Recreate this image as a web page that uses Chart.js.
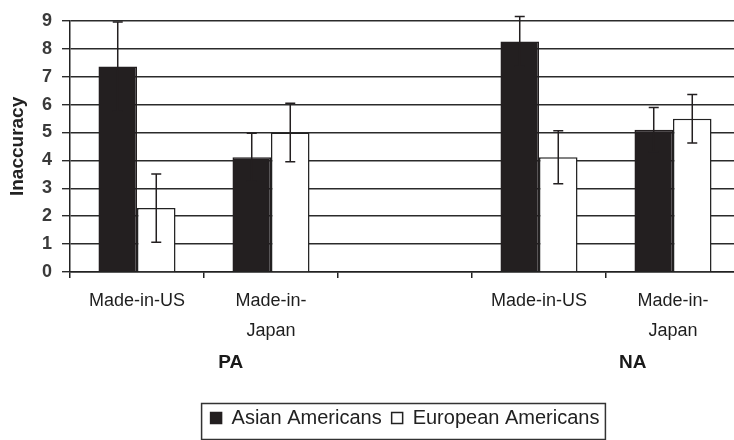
<!DOCTYPE html>
<html>
<head>
<meta charset="utf-8">
<script src="https://cdn.jsdelivr.net/npm/chart.js@4.4.1/dist/chart.umd.min.js"></script>
<style>
  html, body { margin: 0; padding: 0; background: #fff; overflow: hidden; }
  #wrap { width: 734px; height: 440px; overflow: hidden; }
</style>
</head>
<body>
<div id="wrap"><canvas id="chart" width="740" height="440"></canvas></div>
<script>
// categories (third slot is the empty gap between the two groups)
const categories = ['Made-in-US', ['Made-in-', 'Japan'], '', 'Made-in-US', ['Made-in-', 'Japan']];
const groups = [
  { label: 'PA', from: 0, to: 1 },
  { label: 'NA', from: 3, to: 4 }
];

const asianAmericans   = [7.36, 4.11, null, 8.26, 5.10];
const asianErr         = [1.60, 0.86, null, 0.89, 0.79];
const europeanAmericans = [2.29, 5.00, null, 4.11, 5.49];
const europeanErr      = [1.22, 1.05, null, 0.95, 0.87];

const yTicks = [0, 1, 2, 3, 4, 5, 6, 7, 8, 9];

const INK = '#231f20';
const FONT = '"Liberation Sans", Arial, sans-serif';

// error bars drawn from each bar's x and the y scale
const errorBars = {
  id: 'errorBars',
  afterDatasetsDraw(chart) {
    const ctx = chart.ctx;
    const y = chart.scales.y;
    ctx.save();
    ctx.strokeStyle = INK;
    ctx.lineWidth = 1.5;
    chart.data.datasets.forEach((ds, i) => {
      const meta = chart.getDatasetMeta(i);
      meta.data.forEach((bar, j) => {
        const v = ds.data[j], e = ds.errors[j];
        if (v == null || e == null) return;
        const yHi = y.getPixelForValue(v + e);
        const yLo = y.getPixelForValue(v - e);
        const cap = 5;
        ctx.beginPath();
        ctx.moveTo(bar.x, yHi); ctx.lineTo(bar.x, yLo);
        ctx.moveTo(bar.x - cap, yHi); ctx.lineTo(bar.x + cap, yHi);
        ctx.moveTo(bar.x - cap, yLo); ctx.lineTo(bar.x + cap, yLo);
        ctx.stroke();
      });
    });
    ctx.restore();
  }
};

// group labels under the category labels, and a frame round the legend
const extras = {
  id: 'extras',
  afterDraw(chart) {
    const ctx = chart.ctx;
    const x = chart.scales.x;
    const step = x.getPixelForValue(1) - x.getPixelForValue(0);
    ctx.save();
    ctx.fillStyle = '#1a1a1a';
    ctx.font = 'bold 19px ' + FONT;
    ctx.textAlign = 'center';
    ctx.textBaseline = 'middle';
    groups.forEach(g => {
      const px = (x.getPixelForValue(g.from) + x.getPixelForValue(g.to)) / 2 + step * 0.2;
      ctx.fillText(g.label, px, 363);
    });
    const lg = chart.legend;
    if (lg && lg.legendHitBoxes.length) {
      const boxes = lg.legendHitBoxes;
      const l = boxes[0].left - 9;
      const r = boxes[boxes.length - 1].left + boxes[boxes.length - 1].width + 6;
      ctx.strokeStyle = '#333';
      ctx.lineWidth = 1.5;
      ctx.strokeRect(l, 403.5, r - l, 36);
    }
    ctx.restore();
  }
};

new Chart(document.getElementById('chart'), {
  type: 'bar',
  data: {
    labels: categories,
    datasets: [
      {
        label: 'Asian Americans',
        data: asianAmericans,
        errors: asianErr,
        backgroundColor: INK,
        borderColor: INK,
        borderWidth: 1.5
      },
      {
        label: 'European Americans',
        data: europeanAmericans,
        errors: europeanErr,
        backgroundColor: '#ffffff',
        borderColor: '#222',
        borderWidth: 1.5
      }
    ]
  },
  options: {
    responsive: false,
    animation: false,
    devicePixelRatio: 1,
    layout: { padding: { top: 16, left: 0, right: 0, bottom: 2 } },
    datasets: {
      bar: { categoryPercentage: 0.575, barPercentage: 1.0 }
    },
    plugins: {
      legend: {
        position: 'bottom',
        fullSize: false,
        labels: {
          boxWidth: 11,
          boxHeight: 11,
          padding: 10,
          color: '#222',
          font: { family: FONT, size: 20 }
        }
      },
      tooltip: { enabled: false }
    },
    scales: {
      x: {
        afterFit(s) { s.height = 126; },
        grid: {
          display: true,
          offset: true,
          drawOnChartArea: false,
          drawTicks: true,
          tickLength: 6,
          color: '#222',
          lineWidth: 1.5
        },
        border: { display: true, color: '#222', width: 1.5 },
        ticks: {
          autoSkip: false,
          maxRotation: 0,
          padding: 8,
          color: '#1e1e1e',
          font: { family: FONT, size: 18, lineHeight: 1.65 }
        }
      },
      y: {
        min: 0,
        max: 9,
        afterFit(s) { s.width = 70; },
        afterBuildTicks(s) { s.ticks = yTicks.map(v => ({ value: v })); },
        grid: {
          color: '#2b2b2b',
          lineWidth: 1.4,
          drawTicks: true,
          tickLength: 8
        },
        border: { display: true, color: '#222', width: 1.5 },
        ticks: {
          padding: 10,
          color: '#3a3a3a',
          font: { family: FONT, size: 18, weight: 'bold' }
        },
        title: {
          display: true,
          text: 'Inaccuracy',
          color: '#222',
          padding: { top: 6, bottom: 0 },
          font: { family: FONT, size: 19, weight: 'bold', lineHeight: 1.2 }
        }
      }
    }
  },
  plugins: [errorBars, extras]
});
</script>
</body>
</html>
